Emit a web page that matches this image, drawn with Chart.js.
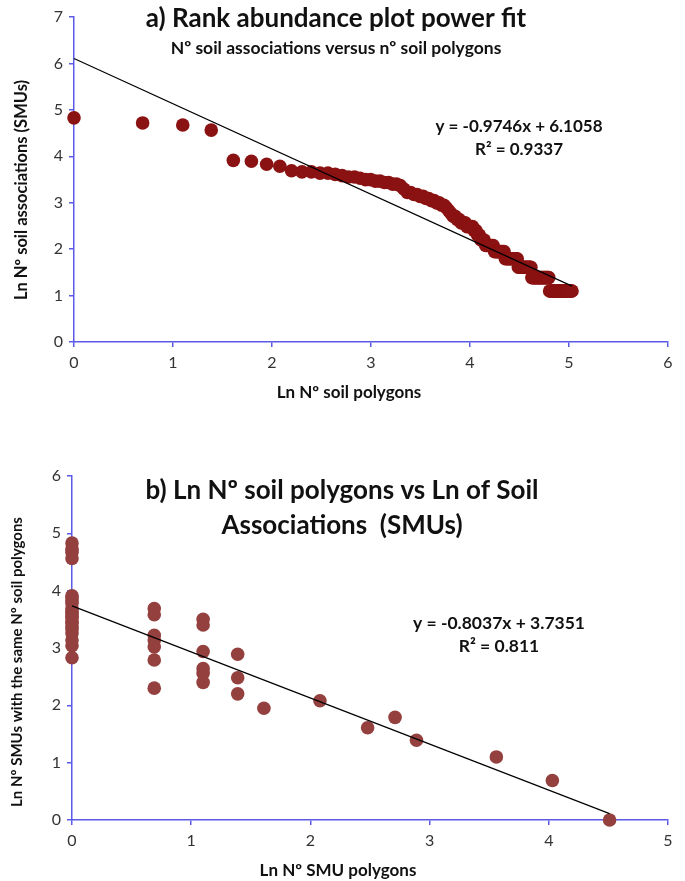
<!DOCTYPE html>
<html>
<head>
<meta charset="utf-8">
<script src="https://cdn.jsdelivr.net/npm/chart.js@4.4.1/dist/chart.umd.min.js"></script>
<style>
  html, body { margin: 0; padding: 0; background: #fff; }
  #wrap { position: relative; width: 685px; height: 881px; }
  canvas { position: absolute; left: 0; }
  #rankChart { top: 0; }
  #freqChart { top: 440px; }
</style>
</head>
<body>
<div id="wrap">
  <canvas id="rankChart" width="685" height="410"></canvas>
  <canvas id="freqChart" width="685" height="441"></canvas>
</div>
<script>
// a) number of soil polygons per soil association, sorted by rank
const rankCounts = [
  125, 112, 107, 96, 50, 49, 46, 44, 40, 39, 39, 38, 38, 37, 36, 35, 35, 34, 33, 33,
  32, 32, 31, 31, 30, 30, 29, 27, 25, 25, 24, 24, 23, 23, 22, 22, 21, 21, 20, 20,
  19, 19, 18, 17, 16, 15, 15, 14, 14, 13, 13, 13, 12, 12, 12, 12, 11, 11, 10, 10,
  9, 9, 9, 8, 8, 8, 8, 8, 8, 7, 7, 7, 7, 7, 7, 7, 7, 6, 6, 6,
  6, 6, 6, 6, 6, 6, 6, 6, 5, 5, 5, 5, 5, 5, 5, 5, 5, 5, 5, 5,
  5, 4, 4, 4, 4, 4, 4, 4, 4, 4, 4, 4, 4, 4, 4, 4, 4, 4, 4, 4,
  4, 3, 3, 3, 3, 3, 3, 3, 3, 3, 3, 3, 3, 3, 3, 3, 3, 3, 3, 3,
  3, 3, 3, 3, 3, 3, 3, 3, 3, 3, 3, 3, 3
];
const rankFit = { slope: -0.9746, intercept: 6.1058, r2: "0.9337" };

// b) ln values
const freqX = [
  0, 0, 0, 0, 0, 0, 0, 0, 0, 0, 0, 0, 0, 0, 0, 0, 0, 0, 0, 0, 0,
  0.69, 0.69, 0.69, 0.69, 0.69, 0.69, 0.69,
  1.1, 1.1, 1.1, 1.1, 1.1, 1.1,
  1.39, 1.39, 1.39,
  1.61, 2.08, 2.48, 2.71, 2.89, 3.56, 4.03, 4.51
];
const freqY = [
  4.83, 4.72, 4.67, 4.56, 3.91, 3.89, 3.83, 3.78, 3.69, 3.64, 3.61, 3.56, 3.53, 3.47, 3.43, 3.37, 3.33, 3.26, 3.14, 3.04, 2.83,
  3.69, 3.58, 3.22, 3.14, 3.02, 2.79, 2.30,
  3.50, 3.40, 2.94, 2.64, 2.56, 2.40,
  2.89, 2.48, 2.20,
  1.95, 2.08, 1.61, 1.79, 1.39, 1.10, 0.69, 0
];
const freqFit = { slope: -0.8037, intercept: 3.7351, r2: "0.811" };

const axisBlue = "#5b5be8";
const fontFamily = "Lato, 'DejaVu Sans', sans-serif";

const textPlugin = {
  id: "texts",
  afterDraw(chart, args, opts) {
    const ctx = chart.ctx;
    (opts.items || []).forEach((t) => {
      ctx.save();
      ctx.fillStyle = t.color || "#111";
      ctx.font = `${t.weight || "bold"} ${t.size}px ${fontFamily}`;
      ctx.textAlign = "center";
      ctx.textBaseline = "middle";
      ctx.translate(t.x, t.y);
      if (t.rotate) ctx.rotate(t.rotate);
      ctx.fillText(t.text, 0, 0);
      ctx.restore();
    });
  },
};

const makeAxis = (max, fitSize) => ({
  type: "linear",
  min: 0,
  max: max,
  afterFit: fitSize,
  ticks: {
    stepSize: 1,
    color: "#333",
    padding: 6,
    font: { family: fontFamily, size: 16 },
  },
  grid: {
    drawOnChartArea: false,
    color: axisBlue,
    lineWidth: 1.5,
    tickLength: 5,
  },
  border: { color: axisBlue, width: 1.5 },
});

const fitLine = (fit, xs) => {
  const xMax = Math.max(...xs);
  return [
    { x: 0, y: fit.intercept },
    { x: xMax, y: fit.intercept + fit.slope * xMax },
  ];
};

const sign = (v) => (v < 0 ? "- " : "+ ");

const createChart = (canvas, cfg) => {
  new Chart(canvas, {
    type: "scatter",
    data: {
      datasets: [
        {
          type: "line",
          data: fitLine(cfg.fit, cfg.points.map((p) => p.x)),
          borderColor: "#000",
          borderWidth: 1.2,
          pointRadius: 0,
          fill: false,
          clip: false,
          order: 0,
        },
        {
          data: cfg.points,
          backgroundColor: cfg.colour,
          borderColor: cfg.colour,
          borderWidth: 0,
          pointRadius: 6.8,
          clip: false,
          order: 1,
        },
      ],
    },
    options: {
      responsive: false,
      animation: false,
      devicePixelRatio: 1,
      layout: { padding: cfg.padding },
      plugins: {
        legend: { display: false },
        tooltip: { enabled: false },
        texts: { items: cfg.texts },
      },
      scales: {
        x: makeAxis(cfg.xMax, (s) => { s.height = cfg.xAxisHeight; }),
        y: makeAxis(cfg.yMax, (s) => { s.width = cfg.yAxisWidth; }),
      },
    },
    plugins: [textPlugin],
  });
};

window.addEventListener("load", () => {
  const rankPoints = rankCounts.map((n, i) => ({ x: Math.log(i + 1), y: Math.log(n) }));
  createChart(document.getElementById("rankChart"), {
    points: rankPoints,
    fit: rankFit,
    colour: "#8b1212",
    xMax: 6,
    yMax: 7,
    yAxisWidth: 74,
    xAxisHeight: 68,
    padding: { left: 0, right: 17, top: 17, bottom: 0 },
    texts: [
      { text: "a) Rank abundance plot power fit", x: 336, y: 19, size: 26 },
      { text: "Nº soil associations versus nº soil polygons", x: 336, y: 48, size: 17.5 },
      { text: `y = ${rankFit.slope.toFixed(4)}x ${sign(rankFit.intercept)}${rankFit.intercept.toFixed(4)}`, x: 519, y: 127, size: 17 },
      { text: `R² = ${rankFit.r2}`, x: 519, y: 150, size: 17 },
      { text: "Ln Nº soil polygons", x: 349, y: 393, size: 17 },
      { text: "Ln Nº soil associations (SMUs)", x: 22, y: 190, size: 16.5, rotate: -Math.PI / 2 },
    ],
  });

  const freqPoints = freqX.map((x, i) => ({ x: x, y: freqY[i] }));
  createChart(document.getElementById("freqChart"), {
    points: freqPoints,
    fit: freqFit,
    colour: "#93403e",
    xMax: 5,
    yMax: 6,
    yAxisWidth: 72,
    xAxisHeight: 61,
    padding: { left: 0, right: 17, top: 36, bottom: 0 },
    texts: [
      { text: "b) Ln Nº soil polygons vs Ln of Soil", x: 342, y: 51, size: 26 },
      { text: "Associations  (SMUs)", x: 342, y: 86, size: 26 },
      { text: `y = ${freqFit.slope.toFixed(4)}x ${sign(freqFit.intercept)}${freqFit.intercept.toFixed(4)}`, x: 499, y: 183, size: 17.5 },
      { text: `R² = ${freqFit.r2}`, x: 499, y: 206, size: 17.5 },
      { text: "Ln Nº SMU polygons", x: 338, y: 431, size: 17 },
      { text: "Ln Nº SMUs with the same Nº soil polygons", x: 17, y: 222, size: 15, rotate: -Math.PI / 2 },
    ],
  });
});
</script>
</body>
</html>
